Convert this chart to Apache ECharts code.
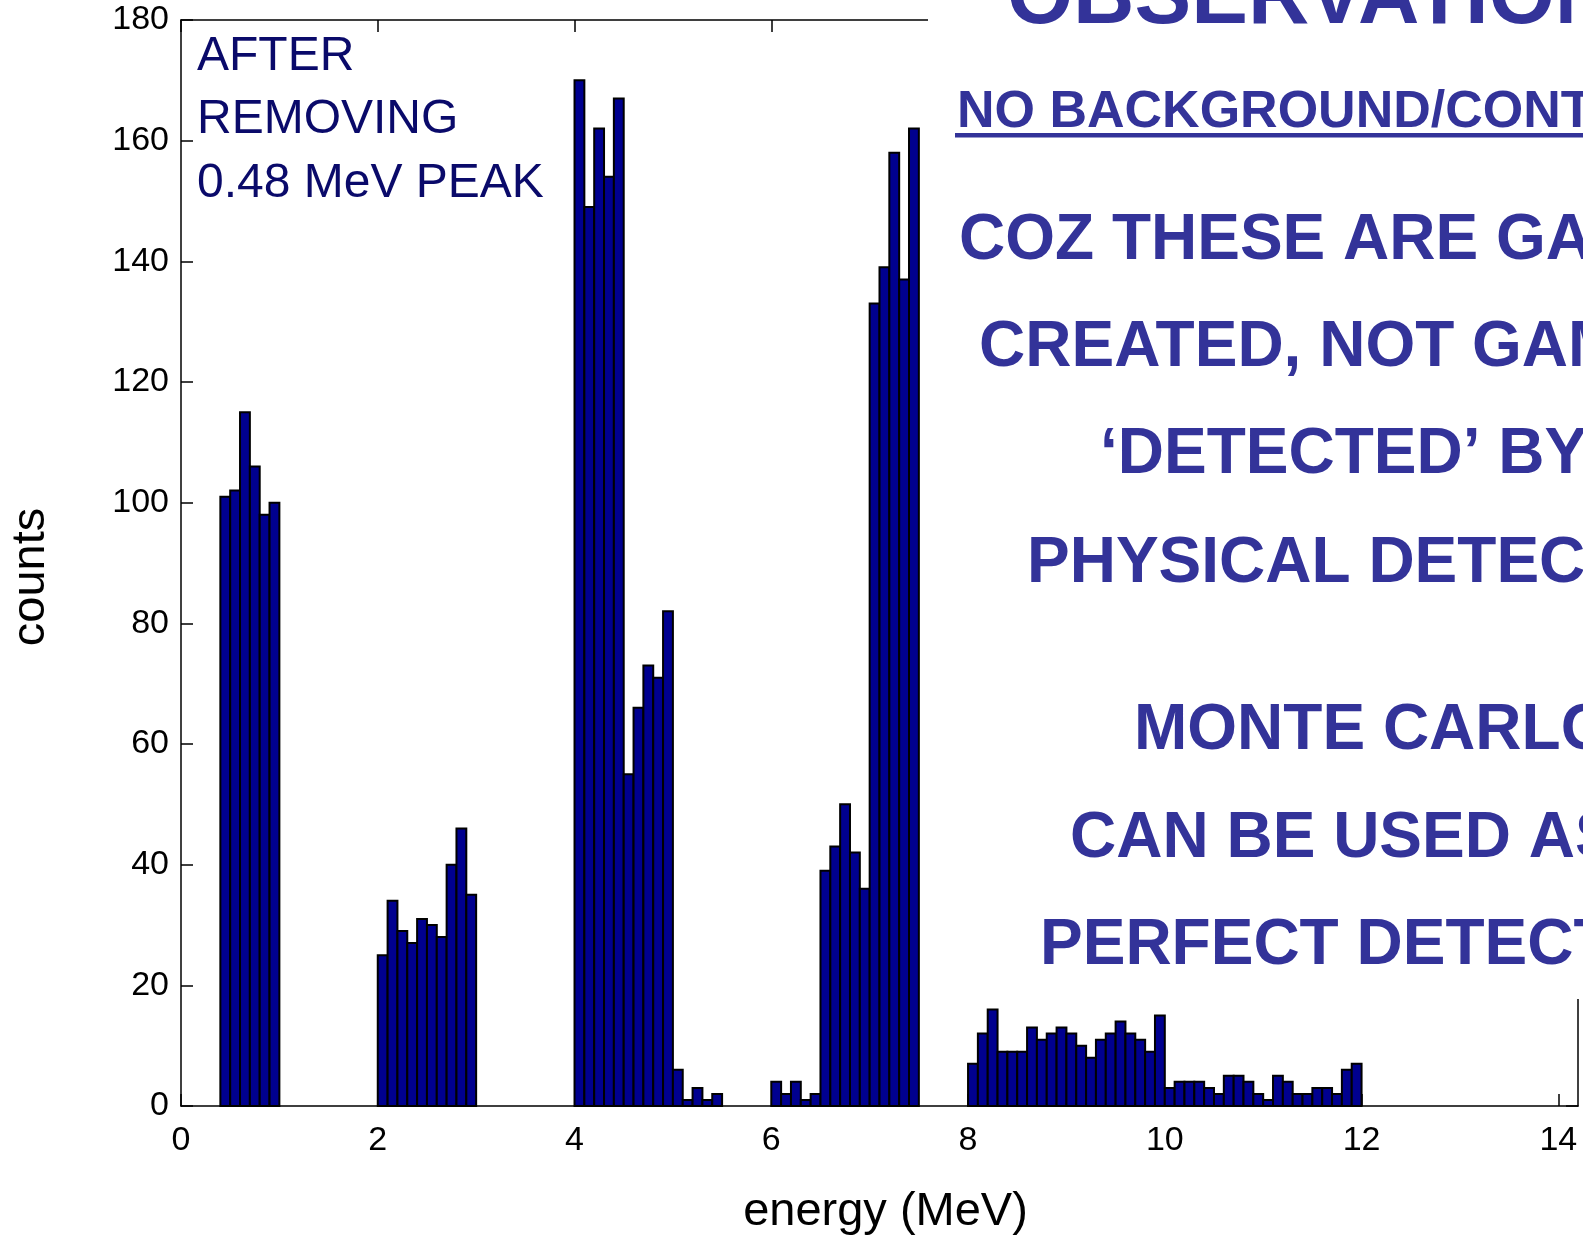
<!DOCTYPE html>
<html>
<head>
<meta charset="utf-8">
<script src="https://cdn.jsdelivr.net/npm/echarts@6/dist/echarts.min.js"></script>
<style>
  html, body { margin: 0; padding: 0; background: #fff; }
  #chart { width: 1583px; height: 1237px; }
</style>
</head>
<body>
<div id="chart"></div>
<script>
// Histogram of gamma energies, bins of 0.1 MeV starting at 0 MeV
const binStart = 0.0;
const binWidth = 0.1;
const counts = [
  // 0.0 - 0.9
  0, 0, 0, 0, 101, 102, 115, 106, 98, 100,
  // 1.0 - 1.9
  0, 0, 0, 0, 0, 0, 0, 0, 0, 0,
  // 2.0 - 2.9
  25, 34, 29, 27, 31, 30, 28, 40, 46, 35,
  // 3.0 - 3.9
  0, 0, 0, 0, 0, 0, 0, 0, 0, 0,
  // 4.0 - 4.9
  170, 149, 162, 154, 167, 55, 66, 73, 71, 82,
  // 5.0 - 5.9
  6, 1, 3, 1, 2, 0, 0, 0, 0, 0,
  // 6.0 - 6.9
  4, 2, 4, 1, 2, 39, 43, 50, 42, 36,
  // 7.0 - 7.9
  133, 139, 158, 137, 162, 0, 0, 0, 0, 0,
  // 8.0 - 8.9
  7, 12, 16, 9, 9, 9, 13, 11, 12, 13,
  // 9.0 - 9.9
  12, 10, 8, 11, 12, 14, 12, 11, 9, 15,
  // 10.0 - 10.9
  3, 4, 4, 4, 3, 2, 5, 5, 4, 2,
  // 11.0 - 11.9
  1, 5, 4, 2, 2, 3, 3, 2, 6, 7
];
const xTicks = [0, 2, 4, 6, 8, 10, 12, 14];
const yTicks = [0, 20, 40, 60, 80, 100, 120, 140, 160, 180];
const xTitle = 'energy (MeV)';
const yTitle = 'counts';
const noteLines = ['AFTER', 'REMOVING', '0.48 MeV PEAK'];
const boxTitle = 'OBSERVATIONS';
const boxSubtitle = 'NO BACKGROUND/CONTINUUM';
const boxLines = [
  'COZ THESE ARE GAMMAS',
  'CREATED, NOT GAMMAS',
  '\u2018DETECTED\u2019 BY',
  'PHYSICAL DETECTOR',
  'MONTE CARLO',
  'CAN BE USED AS',
  'PERFECT DETECTOR'
];

const histData = counts.map((c, i) => [+(binStart + i * binWidth).toFixed(1), c]);

const FONT = '"Liberation Sans", Arial, Helvetica, sans-serif';
const BOX_BLUE = '#333399';
const NOTE_BLUE = '#0a0a6a';

function txt(text, x, y, size, color, weight, align) {
  return {
    type: 'text', z: 200, silent: true,
    style: {
      text: text, x: x, y: y,
      font: (weight || 'normal') + ' ' + size + 'px ' + FONT,
      fill: color,
      align: align || 'left', verticalAlign: 'middle',
      textAlign: align || 'left', textVerticalAlign: 'middle'
    }
  };
}

const boxLineX = [959, 979, 1100, 1027, 1134, 1070, 1040];
const boxLineY = [241, 348, 455, 564, 731, 839, 946];

const graphics = [
  // white text panel covering the upper right of the plot
  { type: 'rect', z: 150, silent: true, shape: { x: 928, y: 0, width: 700, height: 999 }, style: { fill: '#ffffff' } },
  txt(boxTitle, 1007, 0, 85, BOX_BLUE, 'bold'),
  txt(boxSubtitle, 957, 113, 52, BOX_BLUE, 'bold'),
  { type: 'rect', z: 200, silent: true, shape: { x: 955, y: 133, width: 700, height: 4.5 }, style: { fill: BOX_BLUE } }
];
boxLines.forEach((t, i) => graphics.push(txt(t, boxLineX[i], boxLineY[i], 64, BOX_BLUE, 'bold')));
const noteY = [57, 120, 184];
noteLines.forEach((t, i) => graphics.push(txt(t, 197, noteY[i], 48, NOTE_BLUE, 'normal')));

const axisLineStyle = { color: '#000', width: 1.5 };

const chart = echarts.init(document.getElementById('chart'), null, { renderer: 'canvas' });
chart.setOption({
  animation: false,
  backgroundColor: '#fff',
  grid: { left: 181, right: 5, top: 20, bottom: 131, containLabel: false, outerBoundsMode: 'none' },
  xAxis: [
    {
      type: 'value', position: 'bottom', min: 0, max: 14.2, interval: 2,
      axisLine: { show: true, onZero: false, lineStyle: axisLineStyle },
      axisTick: { show: true, inside: true, length: 12, lineStyle: axisLineStyle },
      axisLabel: {
        show: true, margin: 18, color: '#000', fontSize: 34, fontFamily: FONT,
        showMaxLabel: false,
        formatter: v => (xTicks.indexOf(v) >= 0 ? String(v) : '')
      },
      splitLine: { show: false },
      name: xTitle, nameLocation: 'middle', nameGap: 83,
      nameTextStyle: { fontSize: 47, fontFamily: FONT, color: '#000', padding: [0, 0, 0, 12] }
    },
    {
      type: 'value', position: 'top', min: 0, max: 14.2, interval: 2,
      axisLine: { show: true, onZero: false, lineStyle: axisLineStyle },
      axisTick: { show: true, inside: true, length: 12, lineStyle: axisLineStyle },
      axisLabel: { show: false },
      splitLine: { show: false }
    }
  ],
  yAxis: [
    {
      type: 'value', position: 'left', min: 0, max: 180, interval: 20,
      axisLine: { show: true, onZero: false, lineStyle: axisLineStyle },
      axisTick: { show: true, inside: true, length: 12, lineStyle: axisLineStyle },
      axisLabel: {
        show: true, margin: 12, color: '#000', fontSize: 34, fontFamily: FONT,
        formatter: v => (yTicks.indexOf(v) >= 0 ? String(v) : '')
      },
      splitLine: { show: false },
      name: yTitle, nameLocation: 'middle', nameGap: 126,
      nameTextStyle: { fontSize: 47, fontFamily: FONT, color: '#000', padding: [0, 28, 0, 0] }
    },
    {
      type: 'value', position: 'right', min: 0, max: 180, interval: 20,
      axisLine: { show: true, onZero: false, lineStyle: axisLineStyle },
      axisTick: { show: true, inside: true, length: 12, lineStyle: axisLineStyle },
      axisLabel: { show: false },
      splitLine: { show: false }
    }
  ],
  series: [
    {
      type: 'custom',
      xAxisIndex: 0, yAxisIndex: 0,
      data: histData,
      encode: { x: 0, y: 1 },
      renderItem: function (params, api) {
        const x0 = api.value(0);
        const c = api.value(1);
        if (!c) return null;
        const pTop = api.coord([x0, c]);
        const pBot = api.coord([x0 + binWidth, 0]);
        return {
          type: 'rect',
          shape: { x: pTop[0], y: pTop[1], width: pBot[0] - pTop[0], height: pBot[1] - pTop[1] },
          style: { fill: '#00008F', stroke: '#000', lineWidth: 2 }
        };
      }
    }
  ],
  graphic: graphics
});
</script>
</body>
</html>
